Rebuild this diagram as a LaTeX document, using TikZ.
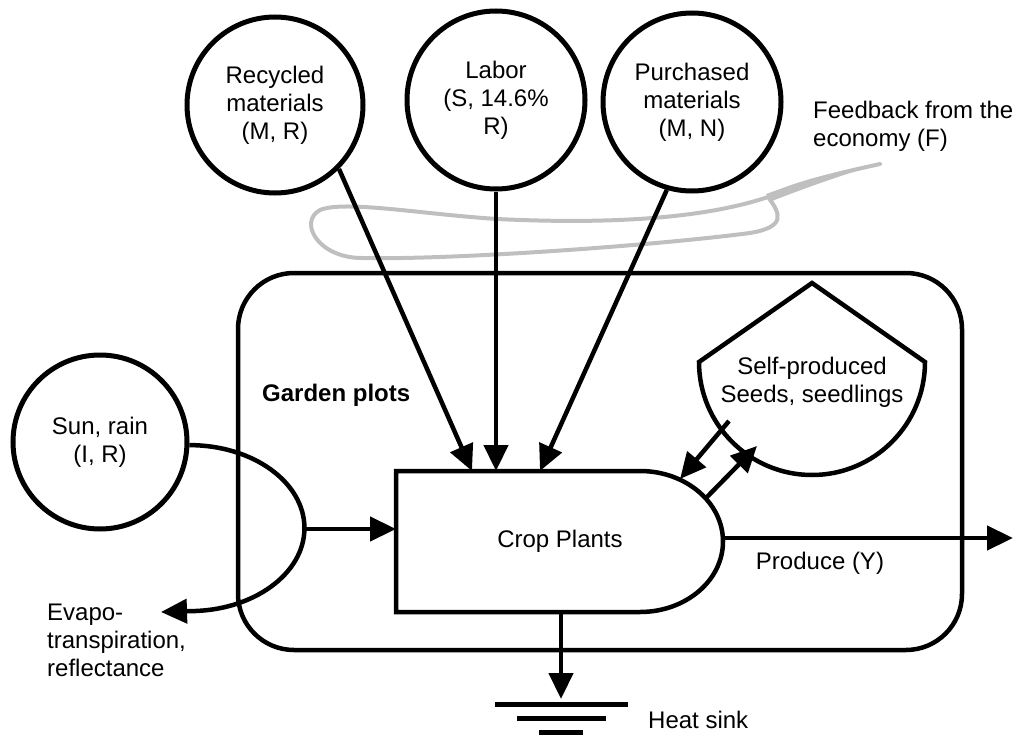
\documentclass[tikz,border=0pt]{standalone}
\usepackage{fontspec}
\setmainfont{Liberation Sans}
\usetikzlibrary{arrows.meta}
\begin{document}
\begin{tikzpicture}[x=1pt,y=-1pt,
  txt/.style={font=\fontsize{24}{28}\selectfont, inner sep=0pt},
  bigc/.style={circle, draw, line width=5pt, inner sep=0pt, align=center, font=\fontsize{24}{28}\selectfont},
  thick line/.style={line width=4.5pt},
  arr/.style={line width=4.5pt, -{Triangle[length=26pt,width=24pt]}},
  fb/.style={line width=4pt, draw=black!25, line cap=round, line join=round},
  gnd/.style={line width=5pt}]
\useasboundingbox (0,0) rectangle (1018,736);

% garden plots boundary
\draw[thick line, rounded corners=56pt] (238,273) rectangle (962,650);
\node[txt, anchor=west, font=\fontsize{24}{28}\selectfont\bfseries] (garden) at (262,395) {Garden plots};

% sources
\node[bigc, minimum size=176pt] (rec) at (275,105) {Recycled\\materials\\(M, R)};
\node[bigc, minimum size=178pt] (lab) at (496,100) {Labor\\(S, 14.6\%\\R)};
\node[bigc, minimum size=178pt] (pur) at (692,102) {Purchased\\materials\\(M, N)};
\node[bigc, minimum size=174pt] (sun) at (100,442) {Sun, rain\\(I, R)};

% feedback
\node[txt, anchor=west, align=left] (fbtext) at (813,126) {Feedback from the\\economy (F)};
\fill[black!25] (766,194) .. controls (800,182) and (840,170) .. (882,163)
  .. controls (845,174) and (805,188) .. (772,201) -- cycle;
\draw[fb] (880,164) .. controls (830,175) and (790,185) .. (768,197)
  .. controls (700,220) and (600,224) .. (497,219)
  .. controls (420,214) and (345,200) .. (320,210)
  .. controls (298,222) and (318,258) .. (362,258)
  .. controls (450,260) and (650,246) .. (750,233)
  .. controls (786,227) and (781,214) .. (768,197);

% crop plants
\draw[thick line, line join=miter] (396,471) -- (640,471)
  arc[start angle=-90, end angle=90, x radius=83, y radius=70.5] -- (396,612) -- cycle;
\node[txt] (crop) at (560,541) {Crop Plants};
\coordinate (cropT1) at (472,471);
\coordinate (cropT2) at (496,471);
\coordinate (cropT3) at (540,471);
\coordinate (cropL) at (396,529);
\coordinate (cropR) at (723,538);
\coordinate (cropB) at (561,612);
\coordinate (cropA) at (680,479);
\coordinate (cropS) at (706,498);

% seeds storage
\draw[thick line, line join=miter] (699,362) -- (812,283) -- (925,362)
  arc[start angle=0, end angle=180, radius=113] -- cycle;
\node[txt, align=center] (seeds) at (812,382) {Self-produced\\Seeds, seedlings};
\coordinate (tankA) at (729,421);
\coordinate (tankB) at (757,446);

% inflows
\draw[arr] (rec.-45) -- (cropT1);
\draw[arr] (lab.south) -- (cropT2);
\draw[arr] (pur.-106) -- (cropT3);

% sun interaction
\coordinate (intR) at (305,529);
\coordinate (evtip) at (161,612);
\draw[arr] (sun.-2) arc[start angle=-90, end angle=90, x radius=115, y radius=83] -- (evtip);
\draw[arr] (intR) -- (cropL);
\node[txt, anchor=west, align=left] (evapo) at (47,640) {Evapo-\\transpiration,\\reflectance};

% seeds exchange
\draw[arr] (tankA) -- (cropA);
\draw[arr] (cropS) -- (tankB);

% produce
\coordinate (prodtip) at (1013,538);
\draw[arr] (cropR) -- (prodtip);
\node[txt] (produce) at (820,563) {Produce (Y)};

% heat sink
\coordinate (hs) at (561,699);
\draw[arr] (cropB) -- (hs);
\draw[gnd] (495,704) -- (628,704);
\draw[gnd] (517,718) -- (606,718);
\draw[gnd] (539,732) -- (583,732);
\node[txt, anchor=west] (heat) at (648,720) {Heat sink};
\end{tikzpicture}
\end{document}
